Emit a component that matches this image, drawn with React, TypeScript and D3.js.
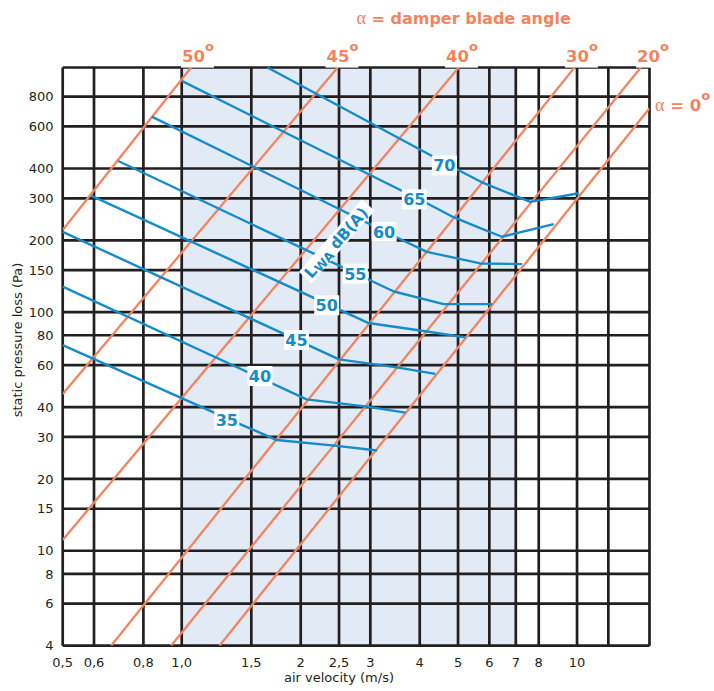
import React from "react";
import * as d3 from "d3";

// ---------- data ----------
const velocityTicks = [0.5, 0.6, 0.8, 1, 1.5, 2, 2.5, 3, 4, 5, 6, 7, 8, 10];
const velocityTickLabels = ["0,5", "0,6", "0,8", "1,0", "1,5", "2", "2,5", "3", "4", "5", "6", "7", "8", "10"];
const velocityGridExtra = [12];
const pressureTicks = [4, 6, 8, 10, 15, 20, 30, 40, 60, 80, 100, 150, 200, 300, 400, 600, 800];
const shadedVelocity = [1.0, 7];

// damper blade angle lines: [velocity, pressure] end points
const angleNames = ["50", "45", "40", "30", "20", "0"];
const angle50 = [[0.5, 221], [1.056, 1060]];
const angle45 = [[0.5, 45.4], [2.48, 1060]];
const angle40 = [[0.5, 11.1], [5.02, 1060]];
const angle30 = [[0.663, 4], [9.85, 1060]];
const angle20 = [[0.94, 4], [14.5, 1060]];
const angle0 = [[1.246, 4], [15.25, 715]];
const angleLines = [angle50, angle45, angle40, angle30, angle20, angle0];

// sound power level curves LWA dB(A)
const levelNames = ["35", "40", "45", "50", "55", "60", "65", "70"];
const lwa35 = [[0.5, 72.8], [1.39, 34.2], [1.74, 29.1], [2.47, 27.5], [3.12, 26.3]];
const lwa40 = [[0.5, 128], [2.07, 43.1], [2.94, 40.2], [3.68, 37.9]];
const lwa45 = [[0.5, 217], [2.5, 63.4], [3.5, 58.7], [4.38, 55.1]];
const lwa50 = [[0.59, 308], [2.97, 90], [4.17, 83], [5.22, 78.4]];
const lwa55 = [[0.691, 430], [3.44, 122], [4.6, 108], [6.1, 108]];
const lwa60 = [[0.84, 660], [3.47, 207], [4.17, 179], [5.69, 160], [7.26, 159]];
const lwa65 = [[1.0, 931], [4.17, 286], [4.87, 250], [5.69, 225], [6.46, 207], [8.73, 234]];
const lwa70 = [[1.648, 1060], [4.92, 400], [5.81, 347], [7.62, 290], [10.1, 315]];
const levelLines = [lwa35, lwa40, lwa45, lwa50, lwa55, lwa60, lwa65, lwa70];
const levelLabelPoints = [
  [1.3, 35.4], [1.577, 54.0], [1.951, 76.4], [2.327, 106.8],
  [2.748, 145], [3.25, 217], [3.875, 297], [4.617, 412],
];
const lwaLabelPoint = [2.467, 198];

// ---------- layout / style ----------
const W = 714;
const H = 691;
const PL = 62.7, PR = 649.5, PT = 67.5, PB = 645.7;
const X_MAX = 15.25, Y_MAX = 1060;
const topLabelX = [182, 326.5, 446, 566, 637];
const ORANGE = "#f3845f";
const BLUE = "#168bc9";
const GRID = "#231f20";
const SHADE = "#e1eaf5";
const FONT = "'DejaVu Sans', Verdana, sans-serif";

export default function App() {
  const x = d3.scaleLog().domain([0.5, X_MAX]).range([PL, PR]);
  const y = d3.scaleLog().domain([4, Y_MAX]).range([PB, PT]);
  const line = d3
    .line<number[]>()
    .x((d) => x(d[0]))
    .y((d) => y(d[1]));

  const vGrid = [...velocityTicks, ...velocityGridExtra, X_MAX];
  const hGrid = [...pressureTicks, Y_MAX];
  const lp = [x(lwaLabelPoint[0]), y(lwaLabelPoint[1])];

  return (
    <svg
      width={W}
      height={H}
      style={{ position: "absolute", left: 0, top: 0, background: "#fff" }}
      fontFamily={FONT}
    >
      <defs>
        <clipPath id="plot">
          <rect x={PL} y={PT} width={PR - PL} height={PB - PT} />
        </clipPath>
      </defs>
      <rect x={0} y={0} width={W} height={H} fill="#fff" />
      {/* shaded band */}
      <rect
        x={x(shadedVelocity[0])}
        y={PT}
        width={x(shadedVelocity[1]) - x(shadedVelocity[0])}
        height={PB - PT}
        fill={SHADE}
      />
      {/* grid */}
      <g stroke={GRID} strokeWidth={2.7}>
        {vGrid.map((v, i) => (
          <line key={"v" + i} x1={x(v)} x2={x(v)} y1={PT} y2={PB} />
        ))}
        {hGrid.map((p, i) => (
          <line key={"h" + i} x1={PL} x2={PR} y1={y(p)} y2={y(p)} />
        ))}
      </g>
      {/* angle lines */}
      <g clipPath="url(#plot)" stroke={ORANGE} strokeWidth={2.3} fill="none">
        {angleLines.map((l, i) => (
          <path key={i} d={line(l) || ""} />
        ))}
      </g>
      {/* level lines */}
      <g stroke={BLUE} strokeWidth={2.4} fill="none" strokeLinejoin="round">
        {levelLines.map((l, i) => (
          <path key={i} d={line(l) || ""} />
        ))}
      </g>
      {/* level labels */}
      {levelLabelPoints.map((pt, i) => (
        <g key={i} transform={`translate(${x(pt[0])},${y(pt[1])})`}>
          <rect x={-12.5} y={-10} width={25} height={20} fill="#fff" />
          <text
            textAnchor="middle"
            y={6}
            fontSize={16}
            fontWeight="bold"
            fill={BLUE}
          >
            {levelNames[i]}
          </text>
        </g>
      ))}
      {/* LWA dB(A) label */}
      <g transform={`translate(${lp[0]},${lp[1]}) rotate(-49)`}>
        <rect x={-48} y={-8.5} width={96} height={17} fill="#fff" />
        <text x={-45} y={5.8} fontSize={15.5} fontWeight="bold" fill={BLUE}>
          L
          <tspan fontSize={12.5} dy={2.5}>WA</tspan>
          <tspan dy={-2.5}> dB(A)</tspan>
        </text>
      </g>
      {/* top angle labels */}
      {topLabelX.map((lx, i) => (
        <g key={i}>
          <rect x={lx - 1} y={38} width={33} height={29.6} fill="#fff" />
          <text x={lx} y={61.7} fontSize={16.5} fontWeight="bold" fill={ORANGE}>
            {angleNames[i]}
            <tspan fontSize={13} dy={-11}>o</tspan>
          </text>
        </g>
      ))}
      <text x={655} y={111} fontSize={16.5} fill={ORANGE}>
        <tspan fontFamily="'Liberation Serif', serif" fontSize={18}>α</tspan>
        <tspan fontWeight="bold"> = {angleNames[5]}</tspan>
        <tspan fontWeight="bold" fontSize={13} dy={-11}>o</tspan>
      </text>
      {/* title */}
      <text x={356.5} y={24} fontSize={16} fill={ORANGE}>
        <tspan fontFamily="'Liberation Serif', serif" fontSize={18}>α</tspan>
        <tspan fontWeight="bold"> = damper blade angle</tspan>
      </text>
      {/* y tick labels */}
      {pressureTicks.map((p, i) => (
        <text
          key={i}
          x={53.5}
          y={y(p) + 4.7}
          textAnchor="end"
          fontSize={13}
          fill={GRID}
        >
          {p}
        </text>
      ))}
      {/* x tick labels */}
      {velocityTicks.map((v, i) => (
        <text
          key={i}
          x={x(v)}
          y={666.7}
          textAnchor="middle"
          fontSize={13}
          fill={GRID}
        >
          {velocityTickLabels[i]}
        </text>
      ))}
      <text x={339} y={682} textAnchor="middle" fontSize={13} fill={GRID}>
        air velocity (m/s)
      </text>
      <text
        transform="translate(22,340) rotate(-90)"
        textAnchor="middle"
        fontSize={13}
        fill={GRID}
      >
        static pressure loss (Pa)
      </text>
    </svg>
  );
}
